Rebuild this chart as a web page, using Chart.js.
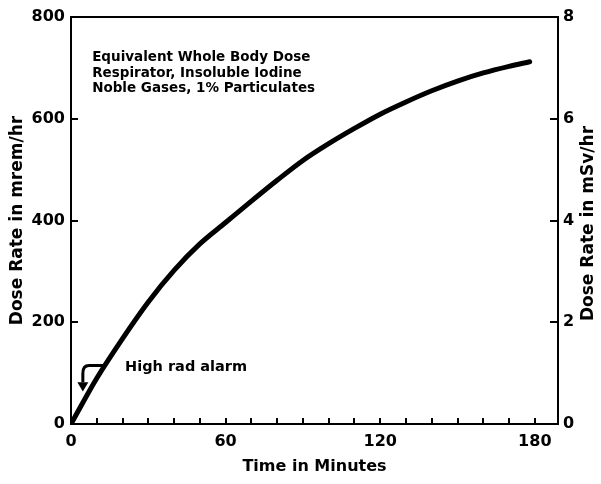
<!DOCTYPE html>
<html><head><meta charset="utf-8">
<script src="https://cdn.jsdelivr.net/npm/chart.js@4"></script>
<style>html,body{margin:0;padding:0;background:#fff}#wrap{width:601px;height:484px}</style>
</head><body><div id="wrap"><canvas id="c" width="601" height="484"></canvas></div>
<script>
// ---- data ----
const timeMinutes = [0, 10, 20, 30, 40, 50, 60, 70, 80, 90, 100, 110, 120, 130, 140, 150, 160, 170, 178];
const doseMremHr  = [0, 90, 168, 240, 302, 354, 396, 438, 479, 518, 551, 581, 609, 633, 655, 674, 690, 703, 712];
const xMajorTicks = [0, 60, 120, 180];
const xMinorStep = 10;
const mremTicks = [0, 200, 400, 600, 800];
const msvTicks = [0, 2, 4, 6, 8];
const noteLines = ['Equivalent Whole Body Dose', 'Respirator, Insoluble Iodine', 'Noble Gases, 1% Particulates'];
const alarmLabel = 'High rad alarm';
const xTitle = 'Time in Minutes';
const yTitle = 'Dose Rate in mrem/hr';
const y2Title = 'Dose Rate in mSv/hr';

const FONT = '"DejaVu Sans", "Liberation Sans", Arial, sans-serif';
const INK = '#000';

const points = timeMinutes.map((t, i) => ({x: t, y: doseMremHr[i]}));

const framePlugin = {
  id: 'frame',
  afterDraw(chart) {
    const {ctx, chartArea: a, scales} = chart;
    const x = scales.x, y = scales.y, y2 = scales.y2;
    ctx.save();
    ctx.strokeStyle = INK;
    ctx.lineWidth = 2;
    ctx.strokeRect(a.left, a.top, a.right - a.left, a.bottom - a.top);
    // inward minor ticks on time axis
    ctx.beginPath();
    for (let v = xMinorStep; v <= 180; v += xMinorStep) {
      const px = Math.round(x.getPixelForValue(v));
      ctx.moveTo(px, a.bottom);
      ctx.lineTo(px, a.bottom - 6);
    }
    mremTicks.slice(1, -1).forEach(v => {
      const py = Math.round(y.getPixelForValue(v));
      ctx.moveTo(a.left, py); ctx.lineTo(a.left + 7, py);
    });
    msvTicks.slice(1, -1).forEach(v => {
      const py = Math.round(y2.getPixelForValue(v));
      ctx.moveTo(a.right, py); ctx.lineTo(a.right - 8, py);
    });
    ctx.stroke();

    // note block
    ctx.fillStyle = INK;
    ctx.font = 'bold 13.5px ' + FONT;
    ctx.textBaseline = 'middle';
    ctx.textAlign = 'left';
    const nx = x.getPixelForValue(8.2);
    [720, 689, 659].forEach((v, i) => ctx.fillText(noteLines[i], nx, y.getPixelForValue(v)));

    // alarm label
    ctx.font = 'bold 14.5px ' + FONT;
    ctx.fillText(alarmLabel, x.getPixelForValue(21), y.getPixelForValue(112));

    // hooked arrow
    ctx.lineWidth = 3;
    ctx.lineCap = 'butt';
    ctx.beginPath();
    const P = (t, v) => [x.getPixelForValue(t), y.getPixelForValue(v)];
    let s = P(12.5, 115), c1 = P(4.6, 115), e = P(4.6, 100), m = P(7, 115), b = P(4.6, 82);
    ctx.moveTo(s[0], s[1]);
    ctx.lineTo(m[0], m[1]);
    ctx.quadraticCurveTo(c1[0], c1[1], e[0], e[1]);
    ctx.lineTo(b[0], b[1]);
    ctx.stroke();
    const tip = P(4.6, 64);
    ctx.beginPath();
    ctx.moveTo(tip[0], tip[1]);
    ctx.lineTo(b[0] - 5.5, b[1]);
    ctx.lineTo(b[0] + 5.5, b[1]);
    ctx.closePath();
    ctx.fill();

    // right axis title (reads bottom-to-top like the left one)
    ctx.save();
    ctx.translate(589, (a.top + a.bottom) / 2 + 3);
    ctx.rotate(-Math.PI / 2);
    ctx.textAlign = 'center';
    ctx.font = 'bold 17px ' + FONT;
    ctx.fillText(y2Title, 0, 0);
    ctx.restore();
    ctx.restore();
  }
};

new Chart(document.getElementById('c'), {
  type: 'line',
  data: {
    datasets: [{
      data: points,
      borderColor: INK,
      borderWidth: 5,
      pointRadius: 0,
      fill: false,
      cubicInterpolationMode: 'monotone',
      borderCapStyle: 'round',
      borderJoinStyle: 'round'
    }]
  },
  options: {
    responsive: false,
    animation: false,
    devicePixelRatio: 1,
    layout: {padding: {top: 17, right: 0, bottom: 0, left: 0}},
    plugins: {legend: {display: false}, tooltip: {enabled: false}},
    scales: {
      x: {
        type: 'linear', position: 'bottom', min: 0, max: 189,
        grid: {display: false, drawTicks: false},
        border: {display: false},
        afterBuildTicks(s) { s.ticks = xMajorTicks.map(v => ({value: v})); },
        ticks: {color: INK, font: {family: FONT, size: 16, weight: 'bold'}, padding: 8, maxRotation: 0, autoSkip: false, includeBounds: false},
        title: {display: true, text: xTitle, color: INK, font: {family: FONT, size: 16, weight: 'bold'}, padding: {top: 0, bottom: 8}},
        afterFit(s) { s.height = 60; }
      },
      y: {
        position: 'left', min: 0, max: 800,
        grid: {display: false, drawTicks: false},
        border: {display: false},
        afterBuildTicks(s) { s.ticks = mremTicks.map(v => ({value: v})); },
        ticks: {color: INK, font: {family: FONT, size: 16, weight: 'bold'}, padding: 6},
        title: {display: true, text: yTitle, color: INK, font: {family: FONT, size: 17, weight: 'bold'}, padding: {top: 7, bottom: 0}},
        afterFit(s) { s.width = 71; }
      },
      y2: {
        position: 'right', min: 0, max: 8,
        grid: {display: false, drawTicks: false},
        border: {display: false},
        afterBuildTicks(s) { s.ticks = msvTicks.map(v => ({value: v})); },
        ticks: {color: INK, font: {family: FONT, size: 16, weight: 'bold'}, padding: 5},
        afterFit(s) { s.width = 43; }
      }
    }
  },
  plugins: [framePlugin]
});
</script>
</body></html>
